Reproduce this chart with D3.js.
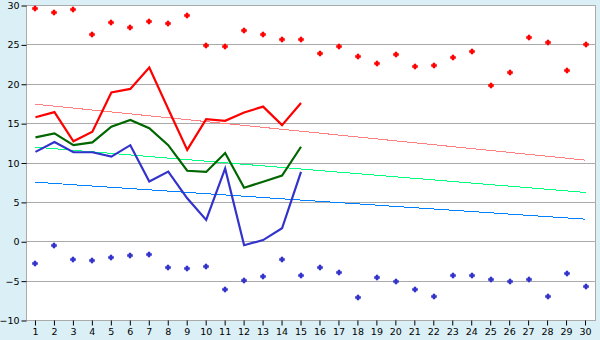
<!DOCTYPE html>
<html>
<head>
<meta charset="utf-8">
<script src="https://cdn.jsdelivr.net/npm/d3@7"></script>
<style>
  body { margin: 0; background: #daeff6; }
  svg { display: block; }
  text { font-family: "DejaVu Sans", Verdana, sans-serif; font-size: 9.5px; fill: #000; }
</style>
</head>
<body>
<svg id="chart" width="600" height="340"></svg>
<script>
// days on the x axis
var days = d3.range(1, 31);
var yTicks = [-10, -5, 0, 5, 10, 15, 20, 25, 30];

// daily maxima (red points) and minima (blue points)
var maxPoints = [29.6, 29.1, 29.45, 26.3, 27.8, 27.2, 27.95, 27.7, 28.7, 24.9,
                 24.75, 26.8, 26.3, 25.65, 25.65, 23.85, 24.75, 23.5, 22.6, 23.75,
                 22.2, 22.35, 23.35, 24.1, 19.8, 21.45, 25.9, 25.25, 21.8, 25.0];
var minPoints = [-2.8, -0.5, -2.2, -2.4, -2.0, -1.8, -1.65, -3.3, -3.45, -3.2,
                 -6.1, -4.95, -4.45, -2.3, -4.3, -3.3, -3.95, -7.1, -4.6, -5.1,
                 -6.1, -7.0, -4.3, -4.3, -4.75, -5.1, -4.85, -7.0, -4.05, -5.7];

// first 15 days, line series
var redLine   = [15.75, 16.4, 12.7, 13.9, 18.9, 19.35, 22.05, 16.8, 11.6, 15.5,
                 15.3, 16.35, 17.1, 14.75, 17.55];
var greenLine = [13.2, 13.7, 12.2, 12.55, 14.55, 15.4, 14.35, 12.2, 8.95, 8.8,
                 11.2, 6.8, 7.55, 8.35, 12.0];
var blueLine  = [11.35, 12.6, 11.3, 11.3, 10.75, 12.2, 7.6, 8.85, 5.45, 2.7,
                 9.25, -0.5, 0.15, 1.65, 8.8];

// trend lines: value at day 1 and at day 30
var redTrend   = [17.4, 10.3];
var greenTrend = [11.95, 6.2];
var blueTrend  = [7.5, 2.8];

var svg = d3.select("#chart");
var pLeft = 26, pRight = 595, pTop = 5, pBottom = 320;

var x = d3.scaleBand().domain(days).range([pLeft, pRight]);
var y = d3.scaleLinear().domain([-10, 30]).range([pBottom, pTop]);
var cx = function(d) { return x(d) + x.bandwidth() / 2; };

// plot area
svg.append("rect")
  .attr("x", pLeft).attr("y", pTop)
  .attr("width", pRight - pLeft).attr("height", pBottom - pTop)
  .style("fill", "#fff");

// grid
svg.append("g").selectAll("line")
  .data(yTicks)
  .enter().append("line")
  .attr("x1", pLeft).attr("x2", pRight)
  .attr("y1", function(d) { return Math.round(y(d)) + 0.5; })
  .attr("y2", function(d) { return Math.round(y(d)) + 0.5; })
  .style("stroke", "#aaa");

// left and right borders
svg.append("line").attr("x1", pLeft + 0.5).attr("x2", pLeft + 0.5)
  .attr("y1", pTop).attr("y2", pBottom).style("stroke", "#aaa");
svg.append("line").attr("x1", pRight + 0.5).attr("x2", pRight + 0.5)
  .attr("y1", pTop).attr("y2", pBottom + 1).style("stroke", "#aaa");

// y axis
var yAxis = svg.append("g")
  .attr("transform", "translate(" + (pLeft + 0.5) + ",0.5)")
  .call(d3.axisLeft(y).tickValues(yTicks).tickSize(5).tickPadding(2)
          .tickFormat(function(d) { return d < 0 ? "\u2212" + Math.abs(d) : d; }));
yAxis.select(".domain").remove();
yAxis.selectAll("line").style("stroke", "#000");

// x axis
var xAxis = svg.append("g")
  .attr("transform", "translate(0," + (pBottom + 0.5) + ")")
  .call(d3.axisBottom(x).tickSize(5).tickPadding(3));
xAxis.select(".domain").remove();
xAxis.selectAll("line").style("stroke", "#000");
yAxis.attr("font-family", null).attr("font-size", null);
xAxis.attr("font-family", null).attr("font-size", null);

// trend lines
var trendLine = d3.line()
  .x(function(d, i) { return cx(i === 0 ? 1 : 30); })
  .y(function(d) { return y(d); });
[[redTrend, "#ff8080"], [greenTrend, "#00ff80"], [blueTrend, "#0080ff"]].forEach(function(t) {
  svg.append("path")
    .datum(t[0])
    .attr("d", trendLine)
    .style("fill", "none")
    .style("stroke", t[1])
    .style("stroke-width", 1)
    .style("shape-rendering", "crispEdges");
});

// data lines
var dataLine = d3.line()
  .x(function(d, i) { return cx(days[i]); })
  .y(function(d) { return y(d); });
[[redLine, "#ff0000"], [greenLine, "#006600"], [blueLine, "#3333cc"]].forEach(function(s) {
  svg.append("path")
    .datum(s[0])
    .attr("d", dataLine)
    .style("fill", "none")
    .style("stroke", s[1])
    .style("stroke-width", 2.2)
    .style("stroke-linejoin", "miter");
});

// point markers: small plus
var marker = "M-1,-2.5h2v1.5h1.5v2h-1.5v1.5h-2v-1.5h-1.5v-2h1.5z";
function drawPoints(vals, color) {
  svg.append("g").selectAll("path")
    .data(vals)
    .enter().append("path")
    .attr("d", marker)
    .attr("transform", function(d, i) {
      return "translate(" + Math.round(cx(days[i])) + "," + (Math.round(y(d)) + 0.5) + ")";
    })
    .style("fill", color)
    .style("stroke", color)
    .style("stroke-width", 0.6);
}
drawPoints(maxPoints, "#ff0000");
drawPoints(minPoints, "#3333cc");
</script>
</body>
</html>
